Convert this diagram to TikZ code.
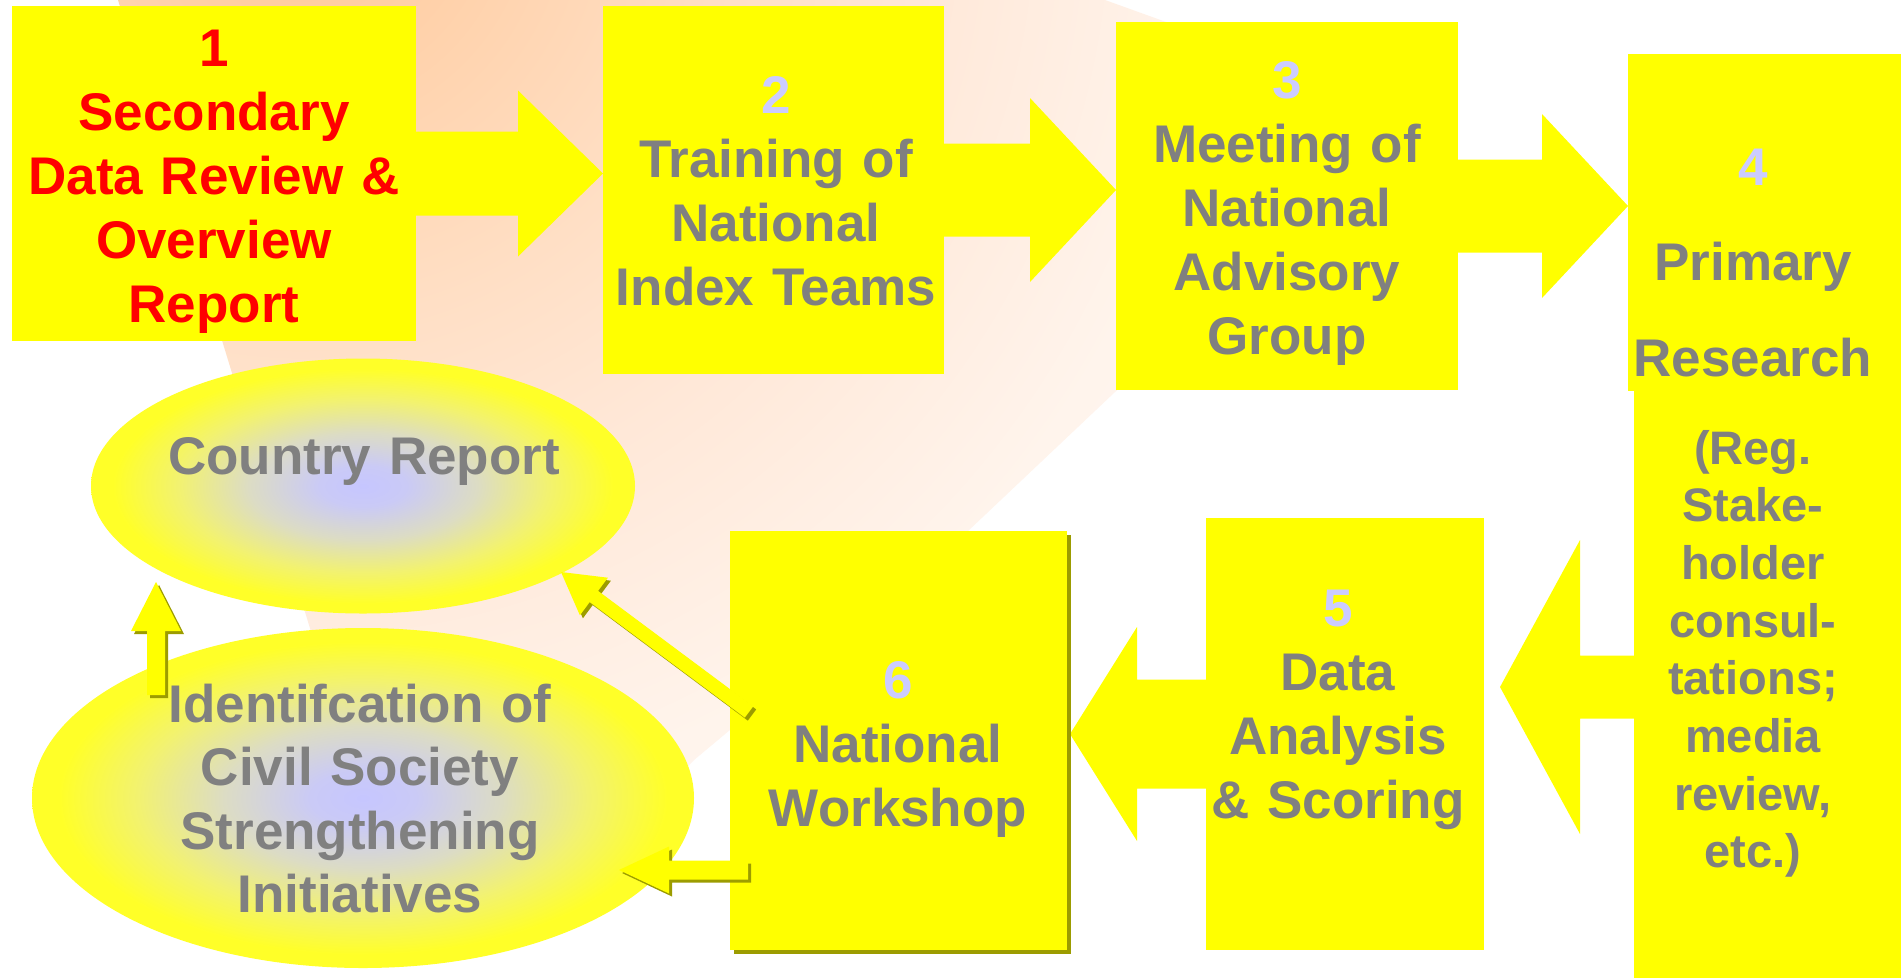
\documentclass[tikz,border=0pt]{standalone}
\usepackage{fontspec}
\setmainfont{Liberation Sans}
\usetikzlibrary{shapes.geometric,calc,shadows}
\definecolor{yel}{HTML}{FFFF00}
\definecolor{olv}{HTML}{9C9C00}
\definecolor{tgray}{HTML}{808080}
\definecolor{tred}{HTML}{FF0000}
\definecolor{numc}{HTML}{CCCCFF}
\definecolor{lavc}{HTML}{C6C6FF}
\definecolor{lavc2}{HTML}{CACAF6}
\definecolor{ellmid}{HTML}{DCDCC4}
\definecolor{ellmidb}{HTML}{F2F270}
\definecolor{yeltwo}{HTML}{FFFF28}
\definecolor{bgzero}{HTML}{FFC898}
\definecolor{bgone}{HTML}{FFDFC5}
\definecolor{bgtwo}{HTML}{FFE8D8}
\definecolor{bgthree}{HTML}{FFF4EC}
\definecolor{bgfour}{HTML}{FFFAF7}
\pgfdeclareradialshading{ellshade}{\pgfpoint{0bp}{0bp}}{color(0bp)=(lavc); color(4bp)=(lavc2); color(10.5bp)=(ellmid); color(17bp)=(ellmidb); color(23bp)=(yeltwo); color(50bp)=(yeltwo)}
\pgfdeclareradialshading{bgshade}{\pgfpoint{0bp}{0bp}}{color(0bp)=(bgzero); color(8.85bp)=(bgone); color(13bp)=(bgtwo); color(19.2bp)=(bgthree); color(28bp)=(bgfour); color(50bp)=(bgfour)}
\newcommand\rblockarrow[5]{%
  \fill[yel] let \p1=(#1), \p2=(#2) in
   (\x1-3pt,\y2+#3) -- (\x2-#5,\y2+#3) -- (\x2-#5,\y2+#4) -- (\x2,\y2)
   -- (\x2-#5,\y2-#4) -- (\x2-#5,\y2-#3) -- (\x1-3pt,\y2-#3) -- cycle;}
\newcommand\lblockarrow[5]{%
  \fill[yel] let \p1=(#1), \p2=(#2) in
   (\x1+3pt,\y2+#3) -- (\x2+#5,\y2+#3) -- (\x2+#5,\y2+#4) -- (\x2,\y2)
   -- (\x2+#5,\y2-#4) -- (\x2+#5,\y2-#3) -- (\x1+3pt,\y2-#3) -- cycle;}
\newcommand\bevelfill[1]{\fill[olv, shift={(3,3)}] #1; \fill[yel] #1;}
\begin{document}
\begin{tikzpicture}[x=1pt,y=-1pt,
  box/.style={rectangle, fill=yel, draw=none, inner sep=0pt, outer sep=0pt, anchor=north west},
  txt/.style={inner sep=0pt, anchor=base, align=center, text width=520pt, text=tgray,
              font=\fontsize{53}{64}\selectfont\bfseries},
  ell/.style={ellipse, inner sep=0pt, shade, shading=ellshade}]
\useasboundingbox[fill=white] (0,0) rectangle (1903,978);
% background sweep
\begin{scope}
  \clip (118,0) -- (1105,0) -- (1438,120) -- (1115,392) -- (968,531) -- (694,760)
        -- (560,900) -- (390,890) -- cycle;
  \shade[shading=bgshade] (300,-100) circle [radius=1200];
\end{scope}
% ellipses
\node[ell, minimum width=544pt, minimum height=255pt] (e1) at (363,486) {};
\node[ell, minimum width=662pt, minimum height=340pt] (e2) at (363,798) {};
% boxes (positions only first, to anchor arrows)
\path node[box, fill=none, minimum width=404pt, minimum height=335pt] (b1) at (12,6) {}
      node[box, fill=none, minimum width=341pt, minimum height=368pt] (b2) at (603,6) {}
      node[box, fill=none, minimum width=342pt, minimum height=368pt] (b3) at (1116,22) {}
      node[box, fill=none, minimum width=273pt, minimum height=337pt] (b4) at (1628,54) {}
      node[box, fill=none, minimum width=267pt, minimum height=587pt] (b4b) at (1634,391) {}
      node[box, fill=none, minimum width=278pt, minimum height=432pt] (b5) at (1206,518) {}
      node[box, fill=none, minimum width=337pt, minimum height=419pt] (b6) at (730,531) {};
\coordinate (y45) at (0,687);
\coordinate (t45) at ($(b5.east |- y45)+(16,0)$);
\coordinate (t56) at ($(b6.east |- b5.west)+(3,0)$);
% block arrows
\rblockarrow{b1.east}{b2.west |- b1.east}{42pt}{83pt}{85pt}
\rblockarrow{b2.east}{b3.west |- b2.east}{46.5pt}{92pt}{86pt}
\rblockarrow{b3.east}{b4.west |- b3.east}{46.5pt}{92pt}{86pt}
\lblockarrow{b4b.west |- y45}{t45}{31.5pt}{147pt}{80pt}
\lblockarrow{b5.west}{t56}{54.5pt}{107pt}{67pt}
% box fills
\fill[yel] (b1.north west) rectangle (b1.south east);
\fill[yel] (b2.north west) rectangle (b2.south east);
\fill[yel] (b3.north west) rectangle (b3.south east);
\fill[yel] (b4.north west) rectangle (b4.south east);
\fill[yel] (b4b.north west) rectangle (b4b.south east);
\fill[yel] (b5.north west) rectangle (b5.south east);
\fill[olv] ($(b6.north west)+(4,4)$) rectangle ($(b6.south east)+(4,4)$);
\fill[yel] (b6.north west) rectangle (b6.south east);
% small bevelled arrows
\bevelfill{(156,582) -- (181,631) -- (165,631) -- (165,695) -- (147,695) -- (147,631) -- (131,631) -- cycle}
\bevelfill{(561,572) -- (607.9,577.7) -- (598.1,590.9) -- (753.2,706.4) -- (744.8,717.6) -- (589.7,602.1) -- (579.9,615.3) -- cycle}
\bevelfill{(619,870) -- (669,846.5) -- (669,860.5) -- (748,860.5) -- (748,879.5) -- (669,879.5) -- (669,893.5) -- cycle}
% texts
\node[txt, text=tred] (t1) at (214,66) {1\\Secondary\\Data Review \&\\Overview\\Report};
\node[txt] (t2) at (776,113) {\textcolor{numc}{2}\\Training of\\National\\Index Teams};
\node[txt] (t3) at (1287,98) {\textcolor{numc}{3}\\Meeting of\\National\\Advisory\\Group};
\node[txt, font=\fontsize{53}{95.5}\selectfont\bfseries] (t4) at (1753,185) {\textcolor{numc}{4}\\Primary\\Research};
\node[txt, font=\fontsize{47}{57.7}\selectfont\bfseries] (t4b) at (1753,464) {(Reg.\\Stake-\\holder\\consul-\\tations;\\media\\review,\\etc.)};
\node[txt] (t5) at (1338,626) {\textcolor{numc}{5}\\Data\\Analysis\\\& Scoring};
\node[txt] (t6) at (898,698) {\textcolor{numc}{6}\\National\\Workshop};
\node[txt] (te1) at (364,474) {Country Report};
\node[txt, font=\fontsize{53}{63.5}\selectfont\bfseries] (te2) at (360,722) {Identifcation of\\Civil Society\\Strengthening\\Initiatives};
\end{tikzpicture}
\end{document}
